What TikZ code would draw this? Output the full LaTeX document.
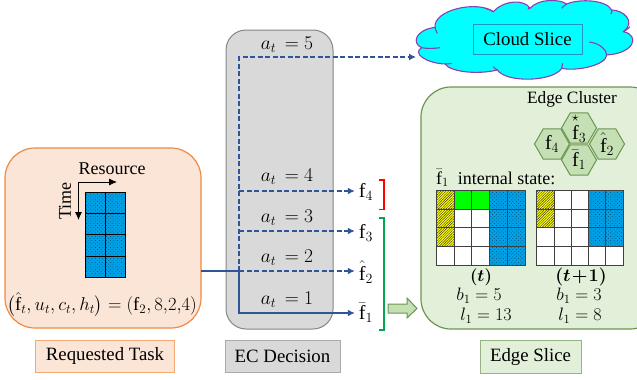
\RequirePackage{fix-cm}
\documentclass[tikz,border=0pt]{standalone}
\usepackage{fontspec}
\usepackage{amsmath}
\setmainfont{Liberation Serif}
\usetikzlibrary{arrows.meta,patterns.meta,shapes.geometric,shapes.arrows}
\definecolor{orfill}{HTML}{FBE5D6}
\definecolor{ordraw}{HTML}{EE8A45}
\definecolor{orbox}{HTML}{F4A873}
\definecolor{grfill}{HTML}{E2F0D9}
\definecolor{grdraw}{HTML}{6B9650}
\definecolor{hexfill}{HTML}{C5E0B4}
\definecolor{gyfill}{HTML}{D9D9D9}
\definecolor{gydraw}{HTML}{858585}
\definecolor{lineblue}{HTML}{2F5597}
\definecolor{cellblue}{HTML}{00A0E6}
\definecolor{cloudline}{HTML}{8A3FB0}
\definecolor{cellgrey}{HTML}{404040}
\definecolor{cloudcyan}{HTML}{00FFFF}
\definecolor{hatchyellow}{HTML}{FFFF00}
\definecolor{cellgreen}{HTML}{00FF00}
\definecolor{brgreen}{HTML}{00A651}
\definecolor{brred}{HTML}{FF0000}
\tikzset{
  lbl/.style={font=\fontsize{18}{20}\selectfont,inner sep=0pt},
  actlbl/.style={font=\fontsize{19.5}{22}\selectfont,inner sep=0pt},
  biglbl/.style={font=\fontsize{20}{22}\selectfont,inner sep=0pt},
  funlbl/.style={biglbl,minimum width=22pt},
  caption/.style={font=\fontsize{18.8}{20}\selectfont,inner sep=0pt,minimum height=32pt,line width=1pt},
  flow/.style={draw=lineblue,line width=1.8pt,-{Latex[length=7pt,width=7pt]}},
  dflow/.style={flow,dash pattern=on 5pt off 2.5pt},
  hexa/.style={regular polygon,regular polygon sides=6,shape border rotate=0,draw=grdraw,fill=hexfill,line width=1pt,minimum size=35pt,inner sep=0pt},
  bcell/.style={fill=cellblue},
  dotcell/.style={pattern={Dots[distance=2.6pt,radius=.35pt,angle=45]},pattern color=black},
  hatchcell/.style={pattern={Lines[distance=1.8pt,angle=45,line width=.45pt]},pattern color=black!80},
  gridline/.style={draw=cellgrey,line width=.8pt},
}
\newcommand{\bluecell}[4]{\fill[bcell] (#1,#2) rectangle (#3,#4);\fill[dotcell] (#1,#2) rectangle (#3,#4);}
\newcommand{\yellowcell}[4]{\fill[hatchyellow] (#1,#2) rectangle (#3,#4);\fill[hatchcell] (#1,#2) rectangle (#3,#4);}
\begin{document}
\begin{tikzpicture}[x=1pt,y=-1pt]
\useasboundingbox (0,0) rectangle (637,380);
% requested task
\draw[draw=ordraw,fill=orfill,line width=1.2pt,rounded corners=30pt] (5,148) rectangle (201,328);
\node[lbl] (res) at (112,169) {Resource};
\node[lbl,rotate=90] (tim) at (65,201) {Time};
\bluecell{85}{192}{125}{277}
\draw[black,line width=.8pt] (85,192) rectangle (125,277) (105,192) -- (105,277) (85,213) -- (125,213) (85,234) -- (125,234) (85,256) -- (125,256);
\coordinate (ao) at (78.5,182);
\coordinate (ax) at (117,182);
\coordinate (ay) at (78.5,220);
\draw[-{Latex[length=8pt,width=7pt]},line width=.8pt] (ao) -- (ax);
\draw[-{Latex[length=8pt,width=7pt]},line width=.8pt] (ao) -- (ay);
\node[inner sep=0pt,font=\fontsize{18.6}{20}\selectfont] (form) at (102,305) {$\bigl(\hat{\mathrm{f}}_t,u_t,c_t,h_t\bigr)=(\mathrm{f}_2,8{,}2{,}4)$};
\node[caption,draw=orbox,fill=orfill,minimum width=139pt] (cap1) at (105,356) {Requested Task};
% EC decision
\draw[draw=gydraw,fill=gyfill,line width=1pt,rounded corners=20pt] (226,30) rectangle (333,329);
\node[caption,draw=gydraw!70,fill=gyfill,minimum width=115pt] (cap2) at (282.5,356.5) {EC Decision};
\node[actlbl] (a5) at (287,45) {$a_t\,=5$};
\node[actlbl] (a4) at (287,177) {$a_t\,=4$};
\node[actlbl] (a3) at (287,218) {$a_t\,=3$};
\node[actlbl] (a2) at (287,258) {$a_t\,=2$};
\node[actlbl] (a1) at (287,300) {$a_t\,=1$};
% function labels
\node[funlbl] (f4) at (366,192) {$\mathrm{f}_4$};
\node[funlbl] (f3) at (366,233) {$\mathrm{f}_3$};
\node[funlbl] (f2) at (366,272) {$\hat{\mathrm{f}}_2$};
\node[funlbl] (f1) at (366,313) {$\bar{\mathrm{f}}_1$};
% cloud
\begin{scope}[shift={(410,0)},x=0.3333pt,y=-0.3333pt]
\draw[draw=cloudline,fill=cloudcyan,line width=1.1pt]
 (35,143) .. controls (5,130) and (15,90) .. (75,82)
 .. controls (70,30) and (200,0) .. (250,35)
 .. controls (280,0) and (345,-3) .. (360,25)
 .. controls (385,-5) and (450,-3) .. (470,12)
 .. controls (510,-5) and (590,0) .. (605,30)
 .. controls (640,30) and (680,65) .. (640,95)
 .. controls (690,105) and (675,160) .. (590,165)
 .. controls (590,195) and (500,215) .. (455,205)
 .. controls (430,245) and (290,250) .. (262,210)
 .. controls (200,225) and (120,215) .. (105,192)
 .. controls (50,190) and (5,160) .. (35,143) -- cycle;
\draw[draw=cloudline,line width=1.1pt]
 (35,143) .. controls (50,146) and (70,146) .. (90,143)
 (75,82) .. controls (76,88) and (78,94) .. (82,100)
 (250,35) .. controls (245,31) and (235,27) .. (225,25)
 (360,25) .. controls (358,22) and (357,20) .. (354,28)
 (470,12) .. controls (465,15) and (458,20) .. (455,25)
 (605,30) .. controls (606,33) and (606,36) .. (603,42)
 (640,95) .. controls (650,90) and (655,85) .. (660,80)
 (590,165) .. controls (590,150) and (570,130) .. (538,126)
 (455,205) .. controls (457,200) and (458,195) .. (458,190)
 (262,210) .. controls (258,208) and (254,205) .. (250,200)
 (105,192) .. controls (110,192) and (118,192) .. (125,190);
\end{scope}
\node[font=\fontsize{18.8}{20}\selectfont,inner sep=0pt,draw=lineblue!60!cloudcyan,fill=cloudcyan,line width=.8pt,minimum width=109pt,minimum height=30pt] (cloudbox) at (527.5,39) {Cloud Slice};
% edge
\draw[draw=grdraw,fill=grfill,line width=1.2pt,rounded corners=30pt] (421,87) rectangle (660,329);
\node[inner sep=0pt,font=\fontsize{17.3}{20}\selectfont] (ec) at (572,99) {Edge Cluster};
\node[hexa] (h4) at (552,144) {};
\node[hexa] (h3) at (579,128) {};
\node[hexa] (h2) at (607,144) {};
\node[hexa] (h1) at (579,160) {};
\node[biglbl] at (h4) {$\mathrm{f}_4$};
\node[biglbl] at (h3) {$\overset{\star}{\mathrm{f}}_3$};
\node[biglbl] at (h2) {$\hat{\mathrm{f}}_2$};
\node[biglbl] at (h1) {$\bar{\mathrm{f}}_1$};
\node[lbl,anchor=west] (ist) at (436,178) {$\bar{\mathrm{f}}_1$\ \ internal state:};
% grid t
\fill[white] (436,190) rectangle (525,265);
\fill[cellgreen] (454,190) rectangle (489.5,209);
\foreach \r in {0,1,2} {\pgfmathsetmacro\ya{190+18.75*\r}\pgfmathsetmacro\yb{\ya+18.75}\yellowcell{436}{\ya}{454}{\yb}}
\bluecell{489.5}{190}{525}{265}
\draw[gridline] (436,190) rectangle (525,265);
\foreach \xx in {454,471.5,489.5,507} \draw[gridline] (\xx,190) -- (\xx,265);
\foreach \yy in {209,227.5,246} \draw[gridline] (436,\yy) -- (525,\yy);
% grid t+1
\fill[white] (536,190) rectangle (623,265);
\foreach \r in {0,1} {\pgfmathsetmacro\ya{190+18.75*\r}\pgfmathsetmacro\yb{\ya+18.75}\yellowcell{536}{\ya}{554}{\yb}}
\bluecell{588}{190}{623}{246}
\draw[gridline] (536,190) rectangle (623,265);
\foreach \xx in {554,571,588,605.5} \draw[gridline] (\xx,190) -- (\xx,265);
\foreach \yy in {209,227.5,246} \draw[gridline] (536,\yy) -- (623,\yy);
\node[inner sep=0pt,font=\fontsize{17}{19}\selectfont] (t1) at (481,277) {$\boldsymbol{(t)}$};
\node[lbl] (b1) at (479,296) {$b_1=5$};
\node[lbl] (l1) at (486,316) {$l_1=13$};
\node[inner sep=0pt,font=\fontsize{18}{20}\selectfont] (t2) at (581,277) {$\boldsymbol{(t\!+\!1)}$};
\node[lbl] (b2) at (579,296) {$b_1=3$};
\node[lbl] (l2) at (580,316) {$l_1=8$};
\node[caption,draw=grdraw!70,fill=grfill,minimum width=101pt,minimum height=33pt] (cap3) at (530.5,357) {Edge Slice};
% connectors
\coordinate (tj) at (239,271);
\coordinate (cloudtip) at (416,57);
\coordinate (v5) at (239,57);
\coordinate (v4) at (239,191);
\coordinate (v3) at (239,231);
\coordinate (v1) at (239,313);
\coordinate (start) at (201,271);
\draw[lineblue,line width=1.8pt] (start) -- (tj);
\draw[dflow] (tj) -- (v5) -- (cloudtip);
\draw[dflow] (v4) -- (f4.west |- v4);
\draw[dflow] (v3) -- (f3.west |- v3);
\draw[dflow] (tj) -- (f2.west |- tj);
\draw[flow] (tj) -- (v1) -- (f1.west |- v1);
% brackets
\draw[draw=brred,line width=1.3pt] (379,180) -- (384,180) -- (384,209.5) -- (379,209.5);
\draw[draw=brgreen,line width=1.3pt] (379,218) -- (384,218) -- (384,330) -- (379,330);
\draw[draw=grdraw,fill=hexfill,line width=1pt] (388,304) -- (407,304) -- (407,298) -- (417,308.5) -- (407,318) -- (407,313) -- (388,313) -- cycle;
\end{tikzpicture}
\end{document}
